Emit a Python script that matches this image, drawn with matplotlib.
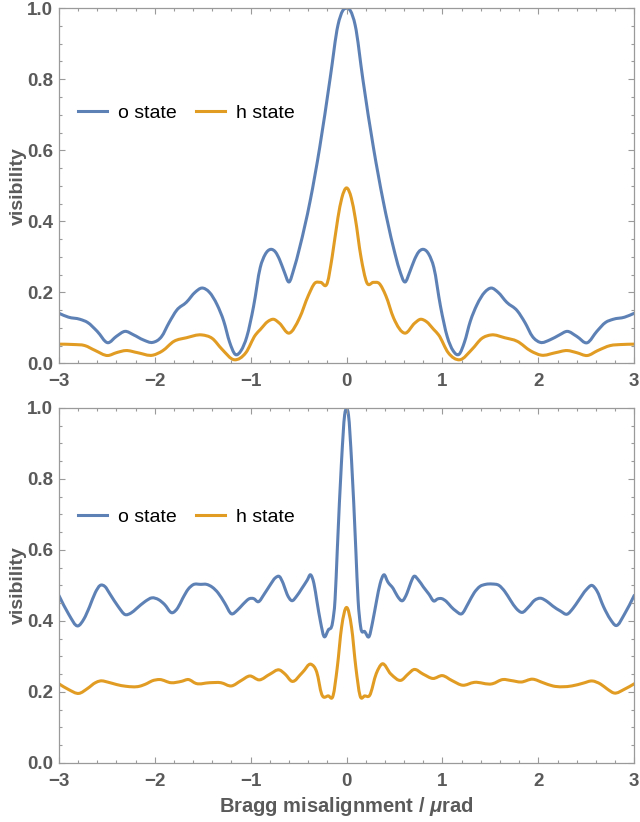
"""
Visibility vs Bragg misalignment, two panels
"""
import numpy as np
import matplotlib
matplotlib.use("Agg")
import matplotlib.pyplot as plt
from matplotlib.ticker import MultipleLocator
from matplotlib.path import Path
from matplotlib.patches import PathPatch
from matplotlib.lines import Line2D

# top panel
top_o_x = [-3.00, -2.90, -2.78, -2.70, -2.60, -2.49, -2.40, -2.31, -2.22, -2.12, -2.02, -1.93, -1.85, -1.77,
           -1.67, -1.58, -1.51, -1.43, -1.35, -1.28, -1.22, -1.16, -1.10, -1.04, -0.97, -0.90, -0.85, -0.79,
           -0.74, -0.70, -0.65, -0.60, -0.55, -0.49, -0.38, -0.28, -0.17, -0.09, -0.04, 0.00,
           0.04, 0.09, 0.17, 0.28, 0.38, 0.49, 0.55, 0.61, 0.66, 0.71, 0.75, 0.80, 0.86, 0.91, 0.98, 1.05,
           1.11, 1.175, 1.23, 1.29, 1.36, 1.44, 1.51, 1.58, 1.67, 1.78, 1.86, 1.94, 2.02, 2.12, 2.22, 2.30,
           2.40, 2.51, 2.61, 2.70, 2.78, 2.90, 3.00]
top_o_y = [0.141, 0.130, 0.124, 0.115, 0.090, 0.058, 0.076, 0.090, 0.080, 0.066, 0.059, 0.075, 0.115, 0.150,
           0.172, 0.200, 0.212, 0.200, 0.165, 0.118, 0.060, 0.025, 0.036, 0.075, 0.160, 0.270, 0.306, 0.321,
           0.313, 0.293, 0.258, 0.229, 0.265, 0.325, 0.457, 0.608, 0.805, 0.952, 0.993, 1.000,
           0.993, 0.952, 0.800, 0.608, 0.460, 0.325, 0.265, 0.229, 0.258, 0.293, 0.313, 0.321, 0.306, 0.270,
           0.160, 0.075, 0.036, 0.026, 0.060, 0.118, 0.165, 0.200, 0.212, 0.200, 0.172, 0.148, 0.115, 0.075,
           0.059, 0.066, 0.080, 0.090, 0.076, 0.058, 0.090, 0.115, 0.124, 0.130, 0.141]

top_h_x = [-3.00, -2.85, -2.73, -2.62, -2.49, -2.40, -2.30, -2.18, -2.02, -1.92, -1.80, -1.67, -1.51, -1.40,
           -1.30, -1.17, -1.05, -0.95, -0.90, -0.82, -0.76, -0.70, -0.60, -0.49, -0.40, -0.33, -0.27, -0.20,
           -0.15, -0.09, -0.05, 0.00, 0.05, 0.09, 0.15, 0.21, 0.28, 0.34, 0.41, 0.49, 0.61, 0.71, 0.77,
           0.83, 0.91, 0.96, 1.06, 1.18, 1.31, 1.41, 1.51, 1.65, 1.78, 1.92, 2.03, 2.18, 2.30, 2.40, 2.51,
           2.62, 2.75, 2.87, 3.00]
top_h_y = [0.054, 0.053, 0.050, 0.036, 0.022, 0.030, 0.036, 0.030, 0.023, 0.035, 0.062, 0.072, 0.080, 0.070,
           0.040, 0.010, 0.030, 0.080, 0.095, 0.118, 0.124, 0.113, 0.085, 0.128, 0.190, 0.226, 0.228, 0.227,
           0.300, 0.410, 0.465, 0.494, 0.465, 0.410, 0.300, 0.228, 0.228, 0.225, 0.190, 0.128, 0.085, 0.113,
           0.124, 0.118, 0.095, 0.080, 0.030, 0.010, 0.040, 0.070, 0.080, 0.072, 0.062, 0.035, 0.023, 0.030,
           0.036, 0.030, 0.022, 0.036, 0.050, 0.053, 0.054]

# bottom panel
bot_o_x = [-3.00, -2.90, -2.80, -2.74, -2.68, -2.62, -2.57, -2.52, -2.47, -2.38, -2.31, -2.25, -2.19, -2.10,
           -2.03, -1.96, -1.90, -1.82, -1.76, -1.71, -1.65, -1.60, -1.52, -1.46, -1.40, -1.34, -1.27, -1.20,
           -1.14, -1.08, -1.01, -0.97, -0.92, -0.86, -0.80, -0.74, -0.70, -0.66, -0.62, -0.57, -0.52, -0.47,
           -0.41, -0.376, -0.34, -0.31, -0.27, -0.237, -0.19, -0.146, -0.12, -0.097, -0.052, -0.02, 0.00,
           0.02, 0.052, 0.097, 0.12, 0.146, 0.19, 0.237, 0.27, 0.313, 0.35, 0.39, 0.43, 0.487, 0.53, 0.584,
           0.63, 0.67, 0.70, 0.75, 0.80, 0.86, 0.91, 0.95, 0.99, 1.04, 1.09, 1.14, 1.20, 1.27, 1.33, 1.39,
           1.45, 1.52, 1.59, 1.65, 1.71, 1.77, 1.83, 1.90, 1.96, 2.02, 2.09, 2.15, 2.23, 2.30, 2.36, 2.42,
           2.50, 2.56, 2.61, 2.68, 2.75, 2.81, 2.90, 3.00]
bot_o_y = [0.472, 0.420, 0.386, 0.405, 0.440, 0.480, 0.500, 0.497, 0.477, 0.440, 0.418, 0.422, 0.435, 0.455,
           0.465, 0.460, 0.447, 0.423, 0.437, 0.463, 0.490, 0.502, 0.503, 0.503, 0.495, 0.479, 0.450, 0.420,
           0.430, 0.447, 0.463, 0.463, 0.454, 0.475, 0.500, 0.522, 0.525, 0.505, 0.475, 0.457, 0.470, 0.490,
           0.515, 0.530, 0.505, 0.457, 0.395, 0.357, 0.375, 0.396, 0.460, 0.598, 0.852, 0.980, 0.998,
           0.980, 0.852, 0.598, 0.460, 0.385, 0.370, 0.357, 0.395, 0.457, 0.505, 0.530, 0.510, 0.491, 0.470,
           0.457, 0.478, 0.508, 0.525, 0.515, 0.496, 0.475, 0.456, 0.462, 0.463, 0.455, 0.440, 0.428, 0.420,
           0.450, 0.479, 0.497, 0.503, 0.504, 0.500, 0.483, 0.458, 0.435, 0.424, 0.440, 0.458, 0.464, 0.455,
           0.442, 0.428, 0.419, 0.435, 0.458, 0.488, 0.500, 0.485, 0.440, 0.405, 0.387, 0.420, 0.472]

bot_h_x = [-3.00, -2.90, -2.79, -2.70, -2.62, -2.57, -2.48, -2.40, -2.30, -2.16, -2.08, -2.03, -1.95, -1.83,
           -1.72, -1.65, -1.57, -1.43, -1.31, -1.20, -1.10, -1.01, -0.91, -0.80, -0.70, -0.64, -0.57, -0.46,
           -0.37, -0.31, -0.26, -0.19, -0.14, -0.097, -0.052, 0.00, 0.052, 0.097, 0.14, 0.19, 0.24, 0.31,
           0.37, 0.46, 0.57, 0.64, 0.70, 0.80, 0.90, 1.00, 1.10, 1.21, 1.33, 1.52, 1.63, 1.72, 1.82, 1.94,
           2.05, 2.15, 2.35, 2.47, 2.56, 2.65, 2.72, 2.79, 2.90, 3.00]
bot_h_y = [0.223, 0.207, 0.196, 0.210, 0.226, 0.231, 0.227, 0.221, 0.216, 0.216, 0.224, 0.231, 0.235, 0.226,
           0.230, 0.235, 0.224, 0.226, 0.226, 0.217, 0.232, 0.245, 0.234, 0.250, 0.262, 0.250, 0.230, 0.255,
           0.278, 0.255, 0.194, 0.189, 0.190, 0.269, 0.382, 0.438, 0.382, 0.269, 0.190, 0.189, 0.190, 0.252,
           0.279, 0.251, 0.233, 0.250, 0.263, 0.250, 0.238, 0.246, 0.232, 0.219, 0.227, 0.223, 0.235, 0.232,
           0.228, 0.236, 0.226, 0.217, 0.217, 0.225, 0.231, 0.222, 0.208, 0.197, 0.208, 0.223]

BLUE = "#5e81b5"
ORANGE = "#e19c24"
TXT = "#5a5a5a"
FRAME = "#9a9a9a"
LW = 2.2

plt.rcParams["font.family"] = ["Liberation Sans", "DejaVu Sans"]
plt.rcParams["mathtext.fontset"] = "custom"
plt.rcParams["mathtext.it"] = "Liberation Sans:italic:bold"
plt.rcParams["mathtext.rm"] = "Liberation Sans:bold"


def smooth_path(x, y):
    # cubic bezier through the read points (Hermite tangents in x)
    x = np.asarray(x, float)
    y = np.asarray(y, float)
    m = np.gradient(y, x)
    verts = [(x[0], y[0])]
    codes = [Path.MOVETO]
    for i in range(len(x) - 1):
        dx = (x[i + 1] - x[i]) / 3.0
        verts += [(x[i] + dx, y[i] + m[i] * dx),
                  (x[i + 1] - dx, y[i + 1] - m[i + 1] * dx),
                  (x[i + 1], y[i + 1])]
        codes += [Path.CURVE4] * 3
    return Path(verts, codes)


def style_axes(ax, show_xlabel=False):
    ax.set_xlim(-3, 3)
    ax.set_ylim(0, 1)
    ax.xaxis.set_major_locator(MultipleLocator(1))
    ax.xaxis.set_minor_locator(MultipleLocator(0.2))
    ax.yaxis.set_major_locator(MultipleLocator(0.2))
    ax.yaxis.set_minor_locator(MultipleLocator(0.05))
    ax.tick_params(which="both", direction="in", top=True, right=True, color=FRAME, width=0.8)
    ax.tick_params(which="major", length=4.5, labelsize=13.5, labelcolor=TXT)
    ax.tick_params(axis="x", which="major", pad=7)
    ax.tick_params(axis="y", which="major", pad=4)
    ax.tick_params(which="minor", length=2.5)
    ax.xaxis.set_major_formatter(matplotlib.ticker.FuncFormatter(
        lambda v, p: f"{int(round(v))}".replace("-", "\u2212")))
    ax.yaxis.set_major_formatter(matplotlib.ticker.FormatStrFormatter("%.1f"))
    for lab in ax.get_xticklabels() + ax.get_yticklabels():
        lab.set_fontweight("bold")
    for s in ax.spines.values():
        s.set_color(FRAME)
        s.set_linewidth(0.9)
    ax.set_ylabel("visibility", fontsize=14, fontweight="bold", color=TXT, labelpad=0)
    if show_xlabel:
        ax.set_xlabel(r"Bragg misalignment / $\mu$rad", fontsize=14.5, fontweight="bold", color=TXT,
                      labelpad=4)


fig = plt.figure(figsize=(6.4, 8.22), dpi=100)
ax1 = fig.add_axes([0.092, 0.558, 0.899, 0.432])
ax2 = fig.add_axes([0.092, 0.0718, 0.899, 0.432])

panels = [(ax1, top_o_x, top_o_y, top_h_x, top_h_y, 0.704),
          (ax2, bot_o_x, bot_o_y, bot_h_x, bot_h_y, 0.693)]
for ax, ox, oy, hx, hy, ly in panels:
    for xs, ys, col in [(ox, oy, BLUE), (hx, hy, ORANGE)]:
        ax.add_patch(PathPatch(smooth_path(xs, ys), fill=False, edgecolor=col, lw=LW,
                               joinstyle="round", capstyle="round"))
    style_axes(ax, show_xlabel=(ax is ax2))
    handles = [Line2D([], [], color=BLUE, lw=LW), Line2D([], [], color=ORANGE, lw=LW)]
    ax.legend(handles, ["o state", "h state"], loc="center left", bbox_to_anchor=(0.0, ly), ncol=2,
              frameon=False, fontsize=14, handlelength=1.45, handletextpad=0.6, columnspacing=1.0,
              borderaxespad=0.6)

fig.savefig("out.png", dpi=100)
